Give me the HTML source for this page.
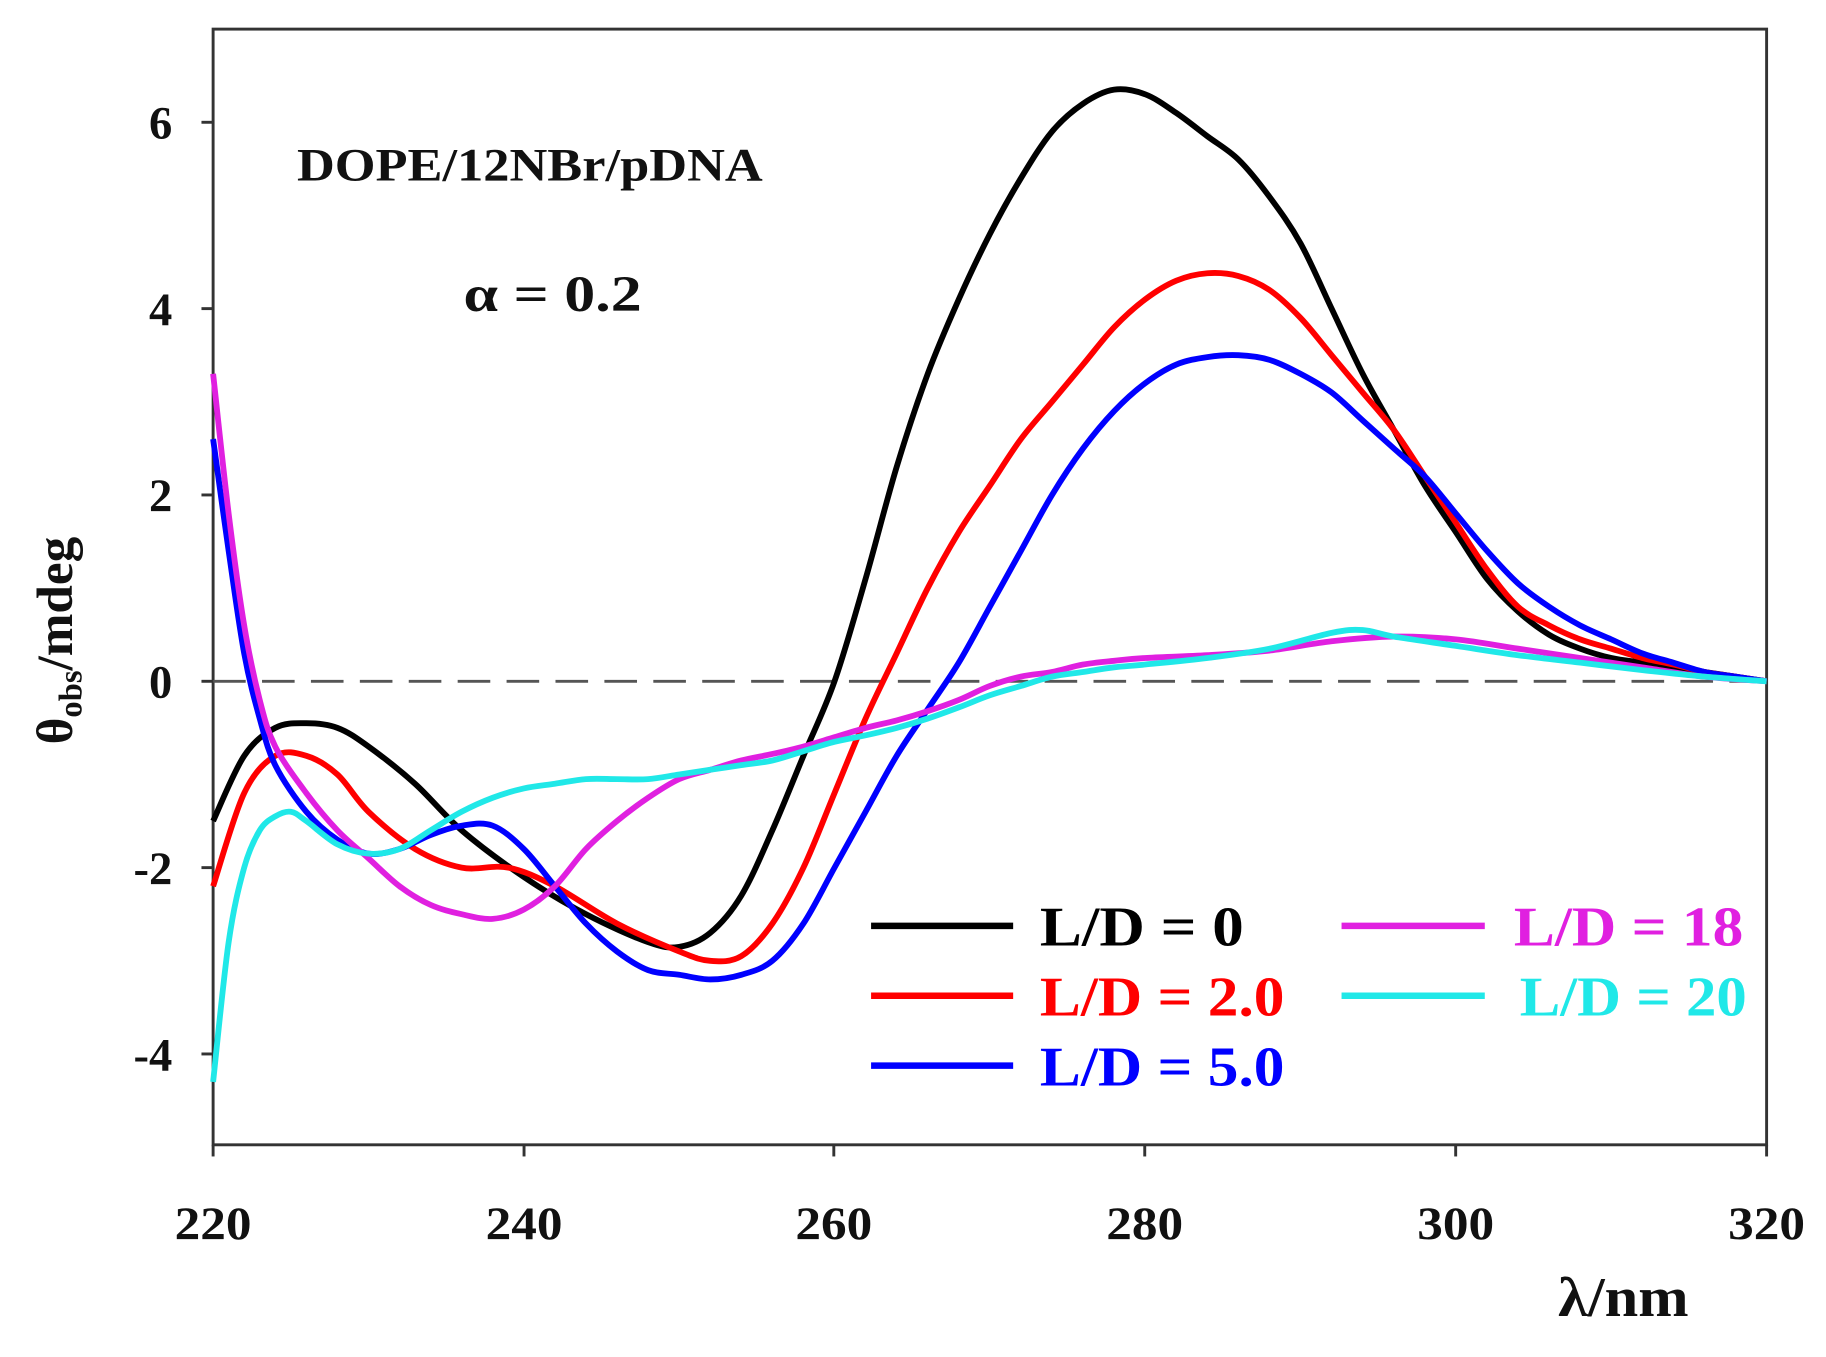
<!DOCTYPE html>
<html><head><meta charset="utf-8"><style>
html,body{margin:0;padding:0;background:#fff;}
svg{display:block;}
text{font-family:"Liberation Serif",serif;font-weight:bold;fill:#111;}
</style></head><body>
<svg id="s" width="1826" height="1357" viewBox="0 0 1568 1165.2" preserveAspectRatio="none" xmlns="http://www.w3.org/2000/svg">
<rect x="183" y="25" width="1334" height="958" fill="none" stroke="#333" stroke-width="2.5"/>
<line x1="183" y1="585" x2="1517" y2="585" stroke="#555" stroke-width="2.5" stroke-dasharray="28,14"/>
<g stroke="#333" stroke-width="2.5">
<line x1="173" y1="105" x2="183" y2="105"/><line x1="173" y1="265" x2="183" y2="265"/><line x1="173" y1="425" x2="183" y2="425"/><line x1="173" y1="585" x2="183" y2="585"/><line x1="173" y1="745" x2="183" y2="745"/><line x1="173" y1="905" x2="183" y2="905"/>
<line x1="183" y1="983" x2="183" y2="993"/><line x1="450" y1="983" x2="450" y2="993"/><line x1="716" y1="983" x2="716" y2="993"/><line x1="983" y1="983" x2="983" y2="993"/><line x1="1250" y1="983" x2="1250" y2="993"/><line x1="1517" y1="983" x2="1517" y2="993"/>
</g>
<g font-size="40" text-anchor="end">
<text x="148" y="119">6</text><text x="148" y="279">4</text><text x="148" y="439">2</text><text x="148" y="599">0</text><text x="148" y="759">-2</text><text x="148" y="919">-4</text>
</g>
<g font-size="40" lengthAdjust="spacingAndGlyphs">
<text x="150" y="1064" textLength="66" lengthAdjust="spacingAndGlyphs">220</text><text x="417" y="1064" textLength="66" lengthAdjust="spacingAndGlyphs">240</text><text x="683" y="1064" textLength="66" lengthAdjust="spacingAndGlyphs">260</text><text x="950" y="1064" textLength="66" lengthAdjust="spacingAndGlyphs">280</text><text x="1217" y="1064" textLength="66" lengthAdjust="spacingAndGlyphs">300</text><text x="1484" y="1064" textLength="66" lengthAdjust="spacingAndGlyphs">320</text>
</g>
<text x="1338" y="1130" font-size="48" textLength="112" lengthAdjust="spacingAndGlyphs">λ/nm</text>
<text transform="translate(62,550) rotate(-90)" font-size="44" text-anchor="middle">θ<tspan font-size="28" dy="8">obs</tspan><tspan dy="-8">/mdeg</tspan></text>
<text x="255" y="155" font-size="40" textLength="400" lengthAdjust="spacingAndGlyphs">DOPE/12NBr/pDNA</text>
<text x="398" y="267" font-size="44" textLength="153" lengthAdjust="spacingAndGlyphs">α = 0.2</text>
<g id="curves" fill="none" stroke-width="5" stroke-linejoin="round"></g>
<g stroke-width="5.5">
<line x1="748" y1="795" x2="870" y2="795" stroke="#000"/>
<line x1="748" y1="855" x2="870" y2="855" stroke="#f00"/>
<line x1="748" y1="915" x2="870" y2="915" stroke="#00f"/>
<line x1="1152" y1="795" x2="1275" y2="795" stroke="#e020e0"/>
<line x1="1152" y1="855" x2="1275" y2="855" stroke="#20e8e8"/>
</g>
<g font-size="48">
<text x="893" y="812" textLength="175" lengthAdjust="spacingAndGlyphs" style="fill:#000">L/D = 0</text>
<text x="893" y="872" textLength="210" lengthAdjust="spacingAndGlyphs" style="fill:#f00">L/D = 2.0</text>
<text x="893" y="932" textLength="210" lengthAdjust="spacingAndGlyphs" style="fill:#00f">L/D = 5.0</text>
<text x="1300" y="812" textLength="197" lengthAdjust="spacingAndGlyphs" style="fill:#e020e0">L/D = 18</text>
<text x="1305" y="872" textLength="195" lengthAdjust="spacingAndGlyphs" style="fill:#20e8e8">L/D = 20</text>
</g>
</svg>
<script>
var D={
"#000":[220,-1.5,222,-0.8,224,-0.5,226,-0.45,228,-0.5,230,-0.7,233,-1.1,236,-1.6,240,-2.1,244,-2.5,248,-2.8,250,-2.85,252,-2.7,254,-2.3,256,-1.6,258,-0.8,260,0,262,1.1,264,2.3,266,3.3,268,4.1,270,4.8,272,5.4,274,5.9,276,6.2,278,6.35,280,6.3,282,6.1,284,5.85,286,5.6,288,5.2,290,4.7,292,4.0,294,3.3,296,2.7,298,2.1,300,1.6,302,1.1,304,0.75,306,0.5,308,0.35,310,0.25,312,0.2,314,0.15,316,0.1,318,0.05,320,0],
"#f00":[220,-2.2,222,-1.2,224,-0.8,226,-0.8,228,-1.0,230,-1.4,233,-1.8,236,-2.0,239,-2.0,242,-2.2,246,-2.6,250,-2.9,252,-3.0,254,-2.95,256,-2.6,258,-2.0,260,-1.2,262,-0.4,264,0.3,266,1.0,268,1.6,270,2.1,272,2.6,274,3.0,276,3.4,278,3.8,280,4.1,282,4.3,284,4.38,286,4.35,288,4.2,290,3.9,292,3.5,294,3.1,296,2.7,298,2.2,300,1.7,302,1.2,304,0.8,306,0.6,308,0.45,310,0.35,312,0.25,314,0.18,316,0.1,318,0.05,320,0],
"#00f":[220,2.6,221,1.4,222,0.3,223,-0.4,224,-0.9,226,-1.4,228,-1.7,230,-1.85,232,-1.8,234,-1.65,236,-1.55,238,-1.55,240,-1.8,242,-2.2,244,-2.6,246,-2.9,248,-3.1,250,-3.15,252,-3.2,254,-3.15,256,-3.0,258,-2.6,260,-2.0,262,-1.4,264,-0.8,266,-0.3,268,0.2,270,0.8,272,1.4,274,2.0,276,2.5,278,2.9,280,3.2,282,3.4,284,3.48,286,3.5,288,3.45,290,3.3,292,3.1,294,2.8,296,2.5,298,2.2,300,1.8,302,1.4,304,1.05,306,0.8,308,0.6,310,0.45,312,0.3,314,0.2,316,0.1,318,0.05,320,0],
"#e020e0":[220,3.3,221,1.8,222,0.6,223,-0.2,224,-0.7,226,-1.2,228,-1.6,230,-1.9,232,-2.2,234,-2.4,236,-2.5,238,-2.55,240,-2.45,242,-2.2,244,-1.8,246,-1.5,248,-1.25,250,-1.05,252,-0.95,254,-0.85,256,-0.78,258,-0.7,260,-0.6,262,-0.5,264,-0.42,266,-0.32,268,-0.2,270,-0.05,272,0.05,274,0.1,276,0.18,278,0.22,280,0.25,284,0.28,288,0.33,292,0.43,296,0.48,300,0.45,304,0.35,308,0.25,312,0.15,316,0.05,320,0],
"#20e8e8":[220,-4.3,221,-2.8,222,-2.0,223,-1.6,224,-1.45,225,-1.4,226,-1.5,228,-1.75,230,-1.85,232,-1.8,234,-1.6,236,-1.4,238,-1.25,240,-1.15,242,-1.1,244,-1.05,246,-1.05,248,-1.05,250,-1.0,252,-0.95,254,-0.9,256,-0.85,258,-0.75,260,-0.65,262,-0.58,264,-0.5,266,-0.4,268,-0.28,270,-0.15,272,-0.05,274,0.05,276,0.1,278,0.15,280,0.18,284,0.25,288,0.35,292,0.52,294,0.55,296,0.48,300,0.38,304,0.28,308,0.2,312,0.12,316,0.05,320,0]};
var g=document.getElementById('curves');
for(var c in D){var a=D[c],p=[];for(var i=0;i<a.length;i+=2){p.push([183+(a[i]-220)*13.34,585-80*a[i+1]]);}
var d='M'+p[0][0]+','+p[0][1];
for(var i=0;i<p.length-1;i++){var p0=p[i-1]||p[i],p1=p[i],p2=p[i+1],p3=p[i+2]||p2;
d+=' C'+(p1[0]+(p2[0]-p0[0])/6)+','+(p1[1]+(p2[1]-p0[1])/6)+' '+(p2[0]-(p3[0]-p1[0])/6)+','+(p2[1]-(p3[1]-p1[1])/6)+' '+p2[0]+','+p2[1];}
var e=document.createElementNS('http://www.w3.org/2000/svg','path');e.setAttribute('d',d);e.setAttribute('stroke',c);g.appendChild(e);}
</script>
</body></html>
